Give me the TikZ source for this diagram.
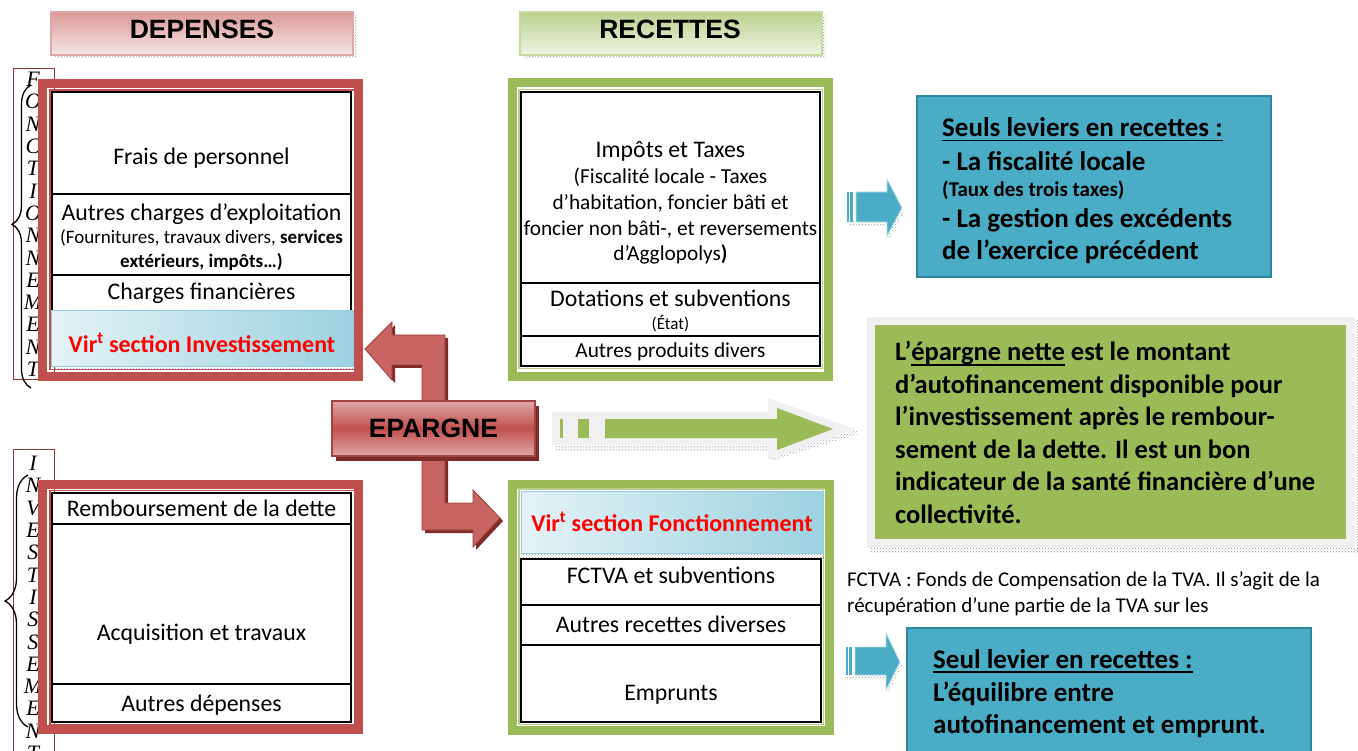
\documentclass[tikz,border=0pt]{standalone}
\usepackage{fontspec}
\setmainfont{Carlito}
\newfontfamily\hdfont{Liberation Sans}
\newfontfamily\sidefont{Liberation Serif}
\usetikzlibrary{patterns,decorations.pathreplacing}
\definecolor{redacc}{HTML}{C0504D}
\definecolor{greenacc}{HTML}{9BBB59}
\definecolor{blueacc}{HTML}{4BACC6}
\definecolor{blueln}{HTML}{31859C}
\definecolor{dkred}{HTML}{7F2B29}
\definecolor{lightgr}{HTML}{F0F0F0}
\newcommand\ulin[1]{\setbox0\hbox{#1}\rlap{\rule[-4.5pt]{\wd0}{1.9pt}}\box0\relax}

\begin{document}
\begin{tikzpicture}[x=1pt,y=-1pt,
  hdr/.style={line width=1.2, inner sep=0},
  cellbox/.style={draw=black, line width=1.6, inner sep=0, fill=white},
  vircell/.style={left color=blueacc!15!white, right color=blueacc!55!white, draw=blueacc!60!white, line width=1, inner sep=0},
  hatch/.style={pattern=crosshatch dots, pattern color=gray!80},
  hd/.style={font=\hdfont\bfseries\fontsize{26.5}{30}\selectfont, inner sep=0, anchor=base},
  txt/.style={font=\fontsize{23.8}{28}\selectfont, inner sep=0, anchor=base},
  sub/.style={font=\fontsize{21.3}{26}\selectfont, inner sep=0, anchor=base},
  smalltxt/.style={font=\fontsize{19}{24}\selectfont, inner sep=0, anchor=base},
  vir/.style={font=\bfseries\fontsize{24}{28}\selectfont, text=red, inner sep=0, anchor=base},
  side/.style={font=\sidefont\itshape\fontsize{22}{22.3}\selectfont, align=center, inner sep=0, anchor=north},
  lever/.style={font=\bfseries\fontsize{27}{32}\selectfont, inner sep=0, anchor=base west},
  note/.style={font=\bfseries\fontsize{26.5}{32}\selectfont, inner sep=0, anchor=base west},
  fct/.style={font=\fontsize{21}{26}\selectfont, inner sep=0, anchor=base west},
  rarrow/.style={fill=redacc!88!white, draw=redacc!80!black, line width=0.8}
]
\useasboundingbox (0,0) rectangle (1358,751);
\clip (0,0) rectangle (1358,751);

\fill[hatch] (55,16) rectangle (357,59);
\node[hdr, top color=redacc!58!white, bottom color=redacc!14!white, draw=redacc!50!white, minimum width=302, minimum height=43] (dep) at (202,33.5) {};
\node[hd] (dept) at (202,39) {DEPENSES};
\fill[hatch] (524,16) rectangle (826,59);
\node[hdr, top color=greenacc!68!white, bottom color=greenacc!16!white, draw=greenacc!55!white, minimum width=302, minimum height=43] (rec) at (671,33.5) {};
\node[hd] (rect) at (670,39) {RECETTES};

\draw[redacc!70!black, line width=1] (13,69) rectangle (54,380);
\node[side] (fo) at (33,72) {F\\O\\N\\C\\T\\I\\O\\N\\N\\E\\M\\E\\N\\T};
\draw[line width=1.3, decorate, decoration={brace, amplitude=19, aspect=0.54}] (31,388) -- (31,85);
\draw[redacc!70!black, line width=1] (13,449) rectangle (54,760);
\node[side] (in) at (33,456) {I\\N\\V\\E\\S\\T\\I\\S\\S\\E\\M\\E\\N\\T};
\draw[line width=1.3, decorate, decoration={brace, amplitude=23, aspect=0.5}] (28,727) -- (28,475);

\draw[redacc, line width=9] (42.5,83.5) rectangle (358.5,376.5);
\draw[redacc, line width=1.5] (50,90) rectangle (354.5,369.5);
\node[cellbox, minimum width=299, minimum height=102] (fp) at (201.5,143) {};
\node[cellbox, minimum width=299, minimum height=81] (ac) at (201.5,234.5) {};
\node[cellbox, minimum width=299, minimum height=36] (cf) at (201.5,293) {};
\fill[hatch] (54,314) rectangle (355,371);
\node[vircell, minimum width=302, minimum height=56] (vi) at (202,339) {};
\node[txt] (fpt) at (201.5,165) {Frais de personnel};
\node[txt] (act) at (201.5,220.5) {Autres charges d’exploitation};
\node[smalltxt] (act2) at (201.5,244) {(Fournitures, travaux divers, \textbf{services}};
\node[smalltxt] (act3) at (201.5,267.5) {\textbf{extérieurs, impôts…)}};
\node[txt] (cft) at (201.5,300) {Charges financières};
\node[vir] (vit) at (202,352.3) {Vir\textsuperscript{t} section Investissement};

\draw[redacc, line width=9] (42.5,484.5) rectangle (358.5,729.5);
\draw[redacc, line width=1.5] (50,490.5) rectangle (354.5,724.5);
\node[cellbox, minimum width=299, minimum height=31] (rd) at (201.5,508.5) {};
\node[cellbox, minimum width=299, minimum height=160] (at) at (201.5,604) {};
\node[cellbox, minimum width=299, minimum height=38] (ad) at (201.5,703) {};
\node[txt] (rdt) at (201.5,516.7) {Remboursement de la dette};
\node[txt] (att) at (201.5,640) {Acquisition et travaux};
\node[txt] (adt) at (201.5,711.7) {Autres dépenses};

\draw[greenacc, line width=9] (512.5,82.5) rectangle (828.5,376.5);
\draw[greenacc!70!white, line width=1.2] (519,89.5) rectangle (822.5,368.5);
\node[cellbox, minimum width=299, minimum height=191] (it) at (670.5,187.5) {};
\node[cellbox, minimum width=299, minimum height=53] (ds) at (670.5,309.5) {};
\node[cellbox, minimum width=299, minimum height=30] (ap) at (670.5,351) {};
\node[txt] (itt) at (670.5,157.7) {Impôts et Taxes};
\node[sub] (it2) at (670.5,183.3) {(Fiscalité locale - Taxes};
\node[sub] (it3) at (670.5,209.3) {d’habitation, foncier bâti et};
\node[sub] (it4) at (670.5,235.3) {foncier non bâti-, et reversements};
\node[sub] (it5) at (670.5,261) {d’Agglopolys\textbf{)}};
\node[txt] (dst) at (670.5,306.7) {Dotations et subventions};
\node[font=\fontsize{17}{20}\selectfont, inner sep=0, anchor=base] (ds2) at (670.5,330) {(État)};
\node[sub] (apt) at (670.5,357.7) {Autres produits divers};

\draw[greenacc, line width=9] (512.5,484.5) rectangle (829.5,730.5);
\draw[greenacc!70!white, line width=1.2] (519,489) rectangle (823.5,724.5);
\fill[hatch] (523,494) rectangle (825,558);
\node[vircell, minimum width=302, minimum height=62] (vf) at (672,522) {};
\node[cellbox, minimum width=300, minimum height=46] (fv) at (671,582) {};
\node[cellbox, minimum width=300, minimum height=40] (ar) at (671,625) {};
\node[cellbox, minimum width=300, minimum height=77] (em) at (671,683.5) {};
\node[vir] (vft) at (672,531.7) {Vir\textsuperscript{t} section Fonctionnement};
\node[txt] (fvt) at (671,583.3) {FCTVA et subventions};
\node[txt] (art) at (671,632.7) {Autres recettes diverses};
\node[txt] (emt) at (671,700.7) {Emprunts};

\fill[dkred] (368,352) -- (395,325) -- (395,338) -- (448,338) -- (448,404) -- (425,404) -- (425,368) -- (395,368) -- (395,383) -- cycle;
\draw[rarrow] (365,349) -- (392,322) -- (392,335) -- (445,335) -- (445,401) -- (422,401) -- (422,365) -- (392,365) -- (392,380) -- cycle;
\fill[dkred] (425,459) -- (425,533) -- (476,533) -- (476,550) -- (503,521) -- (476,493) -- (476,506) -- (448,506) -- (448,459) -- cycle;
\draw[rarrow] (422,456) -- (422,530) -- (473,530) -- (473,547) -- (500,518) -- (473,490) -- (473,503) -- (445,503) -- (445,456) -- cycle;
\fill[dkred] (336,406) rectangle (539,461);
\node[hdr, top color=redacc!50!white, bottom color=redacc!50!white, middle color=redacc, draw=redacc!85!black, minimum width=203, minimum height=55] (ep) at (433.5,428.5) {};
\node[hd] (ept) at (433.5,437) {EPARGNE};

\fill[hatch] (556,446) rectangle (770,450);
\fill[hatch] (770,456) -- (856,430) -- (858,434) -- (772,461) -- cycle;
\fill[lightgr] (552,412) -- (768,412) -- (768,398) -- (855,429) -- (768,460) -- (768,445) -- (552,445) -- cycle;
\fill[greenacc] (560,419) rectangle (563,438);
\fill[greenacc] (578,419) rectangle (589,438);
\fill[greenacc] (605,419) -- (777,419) -- (777,408) -- (833,429) -- (777,450) -- (777,438) -- (605,438) -- cycle;

\fill[hatch] (848,222) rectangle (886,226);
\fill[hatch] (887,234) -- (902,208) -- (905,211) -- (889,239) -- cycle;
\fill[blueacc] (847,192) rectangle (848.5,222);
\fill[blueacc] (850,192) rectangle (853,222);
\draw[blueacc!40!white, fill=blueacc, line width=0.8] (856,192) -- (887,192) -- (887,179) -- (902,208) -- (887,236) -- (887,222) -- (856,222) -- cycle;

\fill[hatch] (847,675) rectangle (885,679);
\fill[hatch] (886,688) -- (900,662) -- (903,665) -- (888,693) -- cycle;
\fill[blueacc] (846,647) rectangle (847.5,675);
\fill[blueacc] (849,647) rectangle (852,675);
\draw[blueacc!40!white, fill=blueacc, line width=0.8] (855,647) -- (886,647) -- (886,633) -- (900,662) -- (886,690) -- (886,675) -- (855,675) -- cycle;

\node[draw=blueln, fill=blueacc, line width=2, minimum width=354, minimum height=181, inner sep=0] (lv1) at (1094,186.5) {};
\node[lever] (l1) at (942,137) {\ulin{Seuls leviers en recettes :}};
\node[lever] (l2) at (942,171) {- La fiscalité locale};
\node[font=\bfseries\fontsize{21}{24}\selectfont, inner sep=0, anchor=base west] (l3) at (942,197) {(Taux des trois taxes)};
\node[lever] (l4) at (942,228) {- La gestion des excédents};
\node[lever] (l5) at (942,260) {de l’exercice précédent};

\fill[hatch] (871,548) rectangle (1358,552);
\fill[hatch] (1355,321) rectangle (1358,552);
\node[fill=lightgr, minimum width=488, minimum height=231, inner sep=0] (ngr) at (1111,432.5) {};
\node[fill=greenacc, minimum width=471, minimum height=214, inner sep=0] (nb) at (1110.5,432) {};
\node[note] (n1) at (895,361) {L’\ulin{épargne nette} est le montant};
\node[note] (n2) at (895,393.4) {d’autofinancement disponible pour};
\node[note] (n3) at (895,425.8) {l’investissement après le rembour-};
\node[note] (n4) at (895,458.2) {sement de la dette. Il est un bon};
\node[note] (n5) at (895,490.6) {indicateur de la santé financière d’une};
\node[note] (n6) at (895,523) {collectivité.};

\node[fct] (f1) at (847,586.7) {FCTVA : Fonds de Compensation de la TVA. Il s’agit de la};
\node[fct] (f2) at (847,612.7) {récupération d’une partie de la TVA sur les};

\node[draw=blueln, fill=blueacc, line width=2, minimum width=404, minimum height=132, inner sep=0] (lv2) at (1109,694) {};
\node[lever] (m1) at (933,668) {\ulin{Seul levier en recettes :}};
\node[lever] (m2) at (933,701) {L’équilibre entre};
\node[lever] (m3) at (933,733) {autofinancement et emprunt.};
\end{tikzpicture}
\end{document}
